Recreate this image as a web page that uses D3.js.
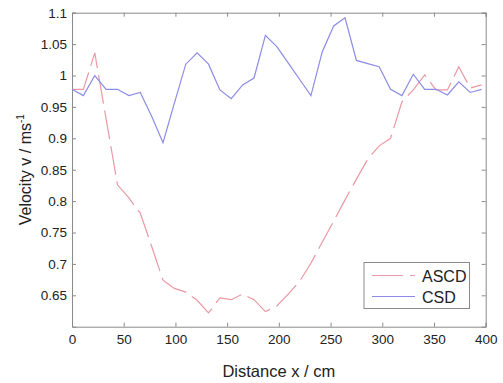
<!DOCTYPE html>
<html>
<head>
<meta charset="utf-8">
<script src="https://cdn.jsdelivr.net/npm/d3@7"></script>
<style>
  html, body { margin: 0; padding: 0; background: #fff; }
  svg { display: block; font-family: "Liberation Sans", Arial, sans-serif; }
</style>
</head>
<body>
<svg id="chart" width="503" height="383"></svg>
<script>
// ---- data ----
const distance = [0, 11, 22, 33, 44, 55, 66, 77, 88, 99, 110, 121, 132, 143, 154, 165, 176, 187, 198,
                  209, 220, 231, 242, 253, 264, 275, 286, 297, 308, 319, 330, 341, 352, 363, 374, 385, 396];
const ascd = [0.978, 0.978, 1.036, 0.931, 0.826, 0.805, 0.781, 0.728, 0.674, 0.661, 0.655, 0.642, 0.622,
              0.646, 0.643, 0.652, 0.643, 0.624, 0.633, 0.652, 0.672, 0.701, 0.735, 0.768, 0.802, 0.835,
              0.867, 0.888, 0.900, 0.958, 0.977, 1.001, 0.977, 0.977, 1.014, 0.980, 0.985];
const csd = [0.978, 0.968, 1.000, 0.978, 0.978, 0.968, 0.973, 0.935, 0.893, 0.956, 1.018, 1.036, 1.018,
             0.977, 0.963, 0.985, 0.996, 1.064, 1.046, 1.020, 0.994, 0.968, 1.038, 1.079, 1.092, 1.024,
             1.019, 1.014, 0.978, 0.968, 1.002, 0.978, 0.978, 0.969, 0.990, 0.973, 0.978];
const seriesNames = ["ASCD", "CSD"];
const xTicks = [0, 50, 100, 150, 200, 250, 300, 350, 400];
const yTicks = [0.65, 0.7, 0.75, 0.8, 0.85, 0.9, 0.95, 1, 1.05, 1.1];
const yTickLabels = ["0.65", "0.7", "0.75", "0.8", "0.85", "0.9", "0.95", "1", "1.05", "1.1"];
const xLabel = "Distance x / cm";
const yLabel = "Velocity v / ms";
const yLabelSup = "-1";

// ---- layout ----
const svg = d3.select("#chart");
const L = 72, T = 12.7, R = 485.7, B = 326.7;
const x = d3.scaleLinear().domain([0, 400]).range([L, R]);
const y = d3.scaleLinear().domain([0.6, 1.1]).range([B, T]);
const axisColor = "#8a8a8a";
const textColor = "#222";
const colors = { ASCD: "#ea98a4", CSD: "#8c8ce8" };

// axes
const gx = svg.append("g").attr("transform", `translate(0,${B})`)
  .call(d3.axisBottom(x).tickValues(xTicks).tickSize(-4).tickPadding(8).tickFormat(d3.format("d")));
const gxt = svg.append("g").attr("transform", `translate(0,${T})`)
  .call(d3.axisTop(x).tickValues(xTicks).tickSize(-4).tickFormat(""));
const gy = svg.append("g").attr("transform", `translate(${L},0)`)
  .call(d3.axisLeft(y).tickValues(yTicks).tickSize(-4).tickPadding(5)
    .tickFormat((d, i) => yTickLabels[i]));
const gyr = svg.append("g").attr("transform", `translate(${R},0)`)
  .call(d3.axisRight(y).tickValues(yTicks).tickSize(-4).tickFormat(""));

[gx, gxt, gy, gyr].forEach(g => {
  g.selectAll("path.domain").attr("stroke", axisColor);
  g.selectAll(".tick line").attr("stroke", axisColor);
  g.selectAll(".tick text").attr("fill", textColor).style("font-size", "13.5px")
    .style("font-family", "'Liberation Sans', Arial, sans-serif");
});

// lines
const line = d3.line().x((d, i) => x(distance[i])).y(d => y(d));
svg.append("path").datum(ascd)
  .attr("d", line).attr("fill", "none")
  .attr("stroke", colors.ASCD).attr("stroke-width", 1.2)
  .attr("stroke-dasharray", "29,7");
svg.append("path").datum(csd)
  .attr("d", line).attr("fill", "none")
  .attr("stroke", colors.CSD).attr("stroke-width", 1.2);

// labels
svg.append("text")
  .attr("x", (L + R) / 2).attr("y", 377)
  .attr("text-anchor", "middle").attr("fill", textColor)
  .style("font-size", "16.5px").text(xLabel);

const yl = svg.append("text")
  .attr("transform", `translate(31,${(T + B) / 2}) rotate(-90)`)
  .attr("text-anchor", "middle").attr("fill", textColor)
  .style("font-size", "16px");
yl.append("tspan").text(yLabel);
yl.append("tspan").attr("dy", -7).style("font-size", "10px").text(yLabelSup);

// legend
const lg = svg.append("g").attr("transform", "translate(364,262.5)");
lg.append("rect").attr("width", 105.5).attr("height", 46)
  .attr("fill", "#fff").attr("stroke", axisColor).attr("stroke-width", 1);
seriesNames.forEach((name, i) => {
  const yy = 13 + i * 21;
  lg.append("line").attr("x1", 8).attr("x2", 51).attr("y1", yy).attr("y2", yy)
    .attr("stroke", colors[name]).attr("stroke-width", 1.2)
    .attr("stroke-dasharray", name === "ASCD" ? "31,7" : null);
  lg.append("text").attr("x", 58).attr("y", yy + 6)
    .attr("fill", textColor).style("font-size", "16px").text(name);
});
</script>
</body>
</html>
